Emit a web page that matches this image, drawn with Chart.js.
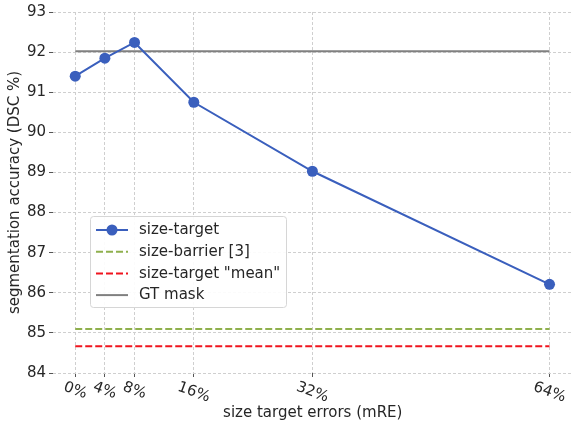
<!DOCTYPE html>
<html>
<head>
<meta charset="utf-8">
<script src="https://cdn.jsdelivr.net/npm/chart.js@4.4.1/dist/chart.umd.min.js"></script>
<style>
  html, body { margin: 0; padding: 0; background: #ffffff; overflow: hidden; }
  /* the plot frame runs a few pixels past the right edge of the window */
  #wrap { width: 578px; height: 423px; position: relative; }
</style>
</head>
<body>
<div id="wrap"><canvas id="c"></canvas></div>
<script>
// Size-target error levels (percent mRE) and accuracies (DSC %)
const errorLevels = [0, 4, 8, 16, 32, 64];
const errorTickLabels = ['0%', '4%', '8%', '16%', '32%', '64%'];
const sizeTargetDSC = [91.40, 91.85, 92.24, 90.75, 89.03, 86.21];

// Constant baselines spanning the error range
const sizeBarrierDSC = 85.10;
const sizeTargetMeanDSC = 84.67;
const gtMaskDSC = 92.02;

const yTicks = [84, 85, 86, 87, 88, 89, 90, 91, 92, 93];

const FONT = "'DejaVu Sans', sans-serif";
const FS = 15;
const TEXT = '#262626';

const span = v => [{ x: errorLevels[0], y: v }, { x: errorLevels[errorLevels.length - 1], y: v }];

// Rotated percentage labels under the x axis
const xLabelPlugin = {
  id: 'xLabels',
  afterDraw(chart) {
    const ctx = chart.ctx;
    const xs = chart.scales.x;
    const top = chart.chartArea.bottom + 7;
    const ang = 20 * Math.PI / 180;
    ctx.save();
    ctx.font = FS + 'px ' + FONT;
    ctx.fillStyle = TEXT;
    ctx.textAlign = 'center';
    ctx.textBaseline = 'middle';
    errorLevels.forEach((v, i) => {
      const txt = errorTickLabels[i];
      const w = ctx.measureText(txt).width;
      const h = FS * 0.95;
      const bh = w * Math.sin(ang) + h * Math.cos(ang);
      const cx = xs.getPixelForValue(v);
      const cy = top + bh / 2;
      ctx.save();
      ctx.translate(cx, cy);
      ctx.rotate(ang);
      ctx.fillText(txt, 0, 0);
      ctx.restore();
    });
    ctx.restore();
  }
};

// Boxed legend inside the plot area
const boxLegendPlugin = {
  id: 'boxLegend',
  afterDraw(chart) {
    const ctx = chart.ctx;
    const x0 = 90, y0 = 216, w = 196, h = 91;
    const rowH = 21.7;
    ctx.save();
    ctx.beginPath();
    ctx.roundRect(x0 + 0.5, y0 + 0.5, w, h, 3);
    ctx.fillStyle = 'rgba(255,255,255,0.9)';
    ctx.fill();
    ctx.strokeStyle = '#d6d6d6';
    ctx.lineWidth = 1;
    ctx.stroke();
    ctx.font = FS + 'px ' + FONT;
    ctx.textBaseline = 'middle';
    ctx.textAlign = 'left';
    chart.data.datasets.forEach((ds, i) => {
      const cy = y0 + 14 + i * rowH;
      ctx.save();
      ctx.strokeStyle = ds.borderColor;
      ctx.lineWidth = ds.borderWidth;
      ctx.setLineDash(ds.borderDash || []);
      ctx.beginPath();
      ctx.moveTo(96, cy);
      ctx.lineTo(128, cy);
      ctx.stroke();
      ctx.restore();
      if (ds.pointRadius > 0) {
        ctx.beginPath();
        ctx.arc(112, cy, ds.pointRadius, 0, Math.PI * 2);
        ctx.fillStyle = ds.pointBackgroundColor;
        ctx.fill();
      }
      ctx.fillStyle = TEXT;
      ctx.fillText(ds.label, 139, cy + 0.5);
    });
    ctx.restore();
  }
};

new Chart(document.getElementById('c'), {
  type: 'line',
  data: {
    datasets: [
      {
        label: 'size-target',
        data: errorLevels.map((x, i) => ({ x, y: sizeTargetDSC[i] })),
        borderColor: '#3a5fbd',
        backgroundColor: '#3a5fbd',
        pointBackgroundColor: '#3a5fbd',
        pointBorderColor: '#3a5fbd',
        borderWidth: 2,
        pointRadius: 5.5,
        pointBorderWidth: 0,
        tension: 0
      },
      {
        label: 'size-barrier [3]',
        data: span(sizeBarrierDSC),
        borderColor: '#8fb04d',
        borderWidth: 2,
        borderDash: [7, 3],
        pointRadius: 0
      },
      {
        label: 'size-target "mean"',
        data: span(sizeTargetMeanDSC),
        borderColor: '#f0141e',
        borderWidth: 2,
        borderDash: [7, 3],
        pointRadius: 0
      },
      {
        label: 'GT mask',
        data: span(gtMaskDSC),
        borderColor: '#808080',
        borderWidth: 2,
        pointRadius: 0
      }
    ]
  },
  options: {
    responsive: true,
    maintainAspectRatio: false,
    animation: false,
    layout: { padding: { top: 10, right: 0, left: 0, bottom: 0 } },
    plugins: { legend: { display: false }, tooltip: { enabled: false } },
    scales: {
      x: {
        type: 'linear',
        min: -3,
        max: 67.1,
        afterBuildTicks: s => { s.ticks = errorLevels.map(v => ({ value: v })); },
        afterFit: s => { s.height = 50; },
        ticks: { display: false },
        grid: {
          color: '#cfcfcf',
          lineWidth: 1,
          tickLength: 4,
          tickColor: '#555555',
          tickBorderDash: []
        },
        border: { display: false, dash: [3, 2] },
        title: {
          display: true,
          text: 'size target errors (mRE)',
          font: { family: FONT, size: FS },
          color: TEXT,
          padding: { top: 0, bottom: 1 }
        }
      },
      y: {
        min: 84,
        max: 93,
        afterBuildTicks: s => { s.ticks = yTicks.map(v => ({ value: v })); },
        afterFit: s => { s.width = 53; },
        ticks: {
          font: { family: FONT, size: FS },
          color: TEXT,
          padding: 3
        },
        grid: {
          color: '#cfcfcf',
          lineWidth: 1,
          tickLength: 4,
          tickColor: '#555555',
          tickBorderDash: []
        },
        border: { display: false, dash: [3, 2] },
        title: {
          display: true,
          text: 'segmentation accuracy (DSC %)',
          font: { family: FONT, size: FS },
          color: TEXT,
          padding: { top: 6, bottom: 0 }
        }
      }
    }
  },
  plugins: [xLabelPlugin, boxLegendPlugin]
});
</script>
</body>
</html>
